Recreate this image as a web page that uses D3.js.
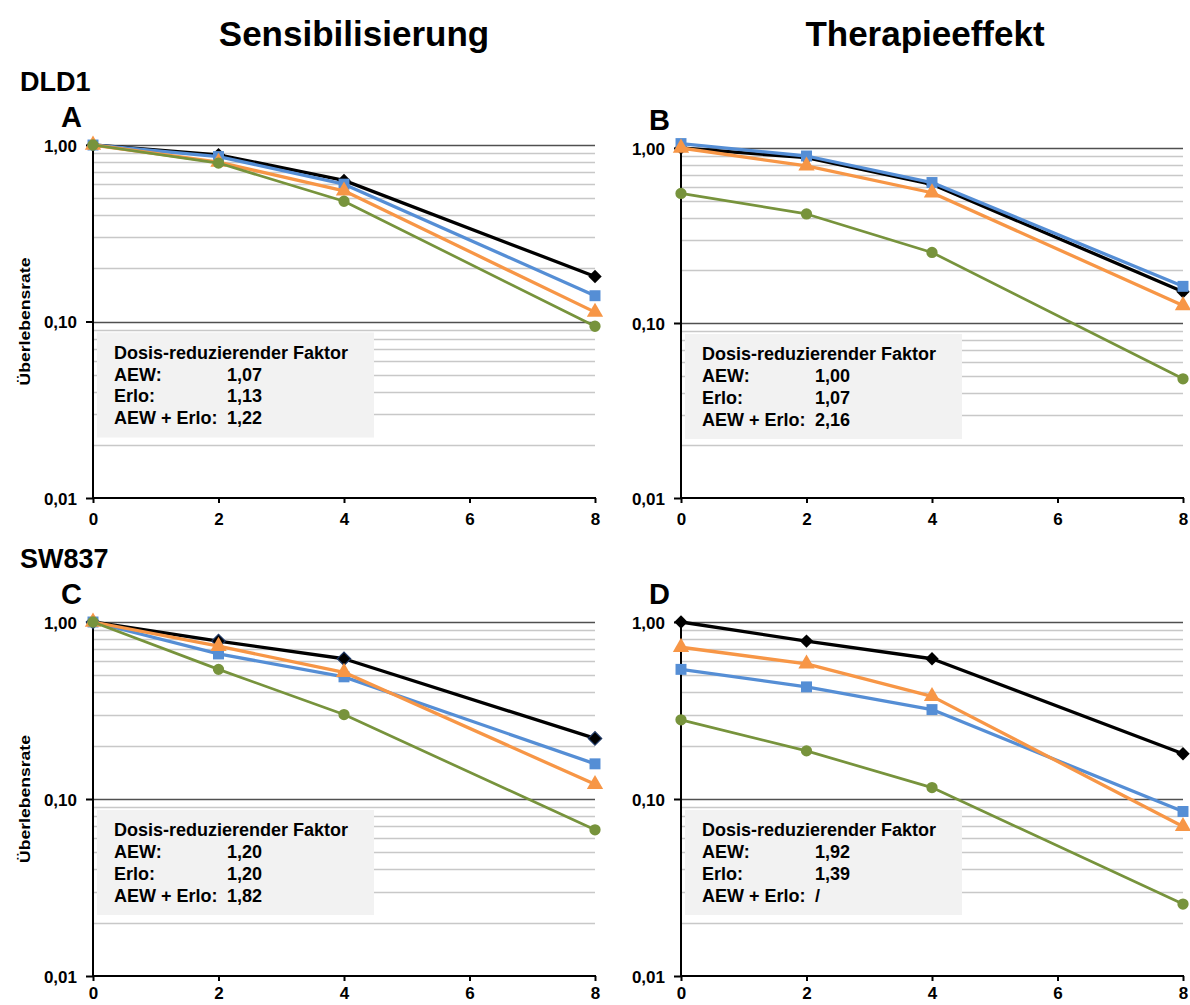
<!DOCTYPE html>
<html>
<head>
<meta charset="utf-8">
<script src="https://cdn.jsdelivr.net/npm/d3@7"></script>
<style>
  body { margin: 0; background: #fff; }
  text { font-family: "Liberation Sans", Arial, sans-serif; font-weight: bold; fill: #000; }
</style>
</head>
<body>
<div id="chart"></div>
<script>
// Dosis (Gy) und Achsen
const doses = [0, 2, 4, 8];
const xTicks = [0, 2, 4, 6, 8];
const yTicks = [1, 0.1, 0.01];
const yTickLabels = ["1,00", "0,10", "0,01"];

const seriesNames = ["Kontrolle", "AEW", "Erlo", "AEW + Erlo"];
const seriesColors = ["#000000", "#558ed5", "#f79646", "#77933c"];

// DLD1 - Sensibilisierung
const aKontrolle = [1.00, 0.88, 0.63, 0.18];
const aAEW = [1.00, 0.86, 0.60, 0.14];
const aErlo = [1.00, 0.80, 0.55, 0.113];
const aBeide = [1.00, 0.79, 0.48, 0.094];

// DLD1 - Therapieeffekt
const bKontrolle = [1.00, 0.88, 0.62, 0.151];
const bAEW = [1.06, 0.90, 0.635, 0.162];
const bErlo = [1.00, 0.79, 0.555, 0.126];
const bBeide = [0.55, 0.42, 0.253, 0.048];

// SW837 - Sensibilisierung
const cKontrolle = [1.00, 0.78, 0.62, 0.22];
const cAEW = [1.00, 0.66, 0.49, 0.158];
const cErlo = [1.00, 0.73, 0.52, 0.121];
const cBeide = [1.00, 0.54, 0.30, 0.067];

// SW837 - Therapieeffekt
const dKontrolle = [1.00, 0.78, 0.62, 0.18];
const dAEW = [0.54, 0.43, 0.32, 0.085];
const dErlo = [0.72, 0.58, 0.38, 0.070];
const dBeide = [0.28, 0.187, 0.116, 0.0255];

// Dosis-reduzierender Faktor
const legendLabels = ["AEW:", "Erlo:", "AEW + Erlo:"];
const aFactors = ["1,07", "1,13", "1,22"];
const bFactors = ["1,00", "1,07", "2,16"];
const cFactors = ["1,20", "1,20", "1,82"];
const dFactors = ["1,92", "1,39", "/"];

const W = 1190, H = 1005;
const svg = d3.select("#chart").append("svg")
    .attr("width", W)
    .attr("height", H);

const panels = [
    {letter: "A", left: 93, right: 595, top: 145, bottom: 498, axisTitle: true, pad: 10,
     series: [aKontrolle, aAEW, aErlo, aBeide], factors: aFactors},
    {letter: "B", left: 681, right: 1183, top: 148, bottom: 498, axisTitle: false, pad: 10,
     series: [bKontrolle, bAEW, bErlo, bBeide], factors: bFactors},
    {letter: "C", left: 93, right: 595, top: 622, bottom: 976, axisTitle: true, edge: true, pad: 6,
     series: [cKontrolle, cAEW, cErlo, cBeide], factors: cFactors},
    {letter: "D", left: 681, right: 1183, top: 622, bottom: 976, axisTitle: false, pad: 6,
     series: [dKontrolle, dAEW, dErlo, dBeide], factors: dFactors}
];

// Überschriften
svg.append("text").attr("x", 354).attr("y", 46).attr("text-anchor", "middle")
    .style("font-size", "35px").text("Sensibilisierung");
svg.append("text").attr("x", 925).attr("y", 46).attr("text-anchor", "middle")
    .style("font-size", "35px").text("Therapieeffekt");
svg.append("text").attr("x", 20).attr("y", 91).style("font-size", "27px").text("DLD1");
svg.append("text").attr("x", 20).attr("y", 568).style("font-size", "27px").text("SW837");

const markerTypes = [d3.symbolSquare, d3.symbolSquare, d3.symbolTriangle, d3.symbolCircle];
const markerSizes = [90, 120, 115, 100];

panels.forEach(p => {
    const x = d3.scaleLinear().domain([0, 8]).range([p.left, p.right]);
    const y = d3.scaleLog().domain([0.01, 1]).range([p.bottom, p.top]);
    const g = svg.append("g");

    // Gitternetz
    const minor = [];
    [0.01, 0.1].forEach(base => {
        for (let k = 2; k <= 9; k++) minor.push(base * k);
    });
    g.selectAll(".minor").data(minor).join("line")
        .attr("x1", p.left).attr("x2", p.right)
        .attr("y1", d => Math.round(y(d)) + 0.5).attr("y2", d => Math.round(y(d)) + 0.5)
        .attr("stroke", "#c8c8c8").attr("stroke-width", 1.3);
    g.selectAll(".major").data([1, 0.1]).join("line")
        .attr("x1", p.left).attr("x2", p.right)
        .attr("y1", d => Math.round(y(d)) + 0.5).attr("y2", d => Math.round(y(d)) + 0.5)
        .attr("stroke", "#505050").attr("stroke-width", 1.3);

    // Achsen
    const yAxis = d3.axisLeft(y).tickValues(yTicks)
        .tickFormat((d, i) => yTickLabels[i]).tickSize(7).tickPadding(9);
    const ya = g.append("g").attr("transform", `translate(${p.left},0)`).call(yAxis);
    ya.select(".domain").remove();
    ya.selectAll(".tick line").attr("stroke", "#000").attr("stroke-width", 2);
    ya.selectAll(".tick text").style("font-size", "17px").attr("font-family", null)
        .attr("dy", "0.36em");
    g.append("line").attr("x1", p.left).attr("x2", p.left)
        .attr("y1", p.top - 3).attr("y2", p.bottom)
        .attr("stroke", "#000").attr("stroke-width", 2);

    const xAxis = d3.axisBottom(x).tickValues(xTicks).tickSize(5).tickPadding(p.pad);
    const xa = g.append("g").attr("transform", `translate(0,${p.bottom})`).call(xAxis);
    xa.select(".domain").remove();
    xa.selectAll(".tick line").attr("stroke", "#000").attr("stroke-width", 2);
    xa.selectAll(".tick text").style("font-size", "17px").attr("font-family", null);
    g.append("line").attr("x1", p.left - 1).attr("x2", p.right + 1)
        .attr("y1", p.bottom).attr("y2", p.bottom)
        .attr("stroke", "#000").attr("stroke-width", 2);

    // Panel-Buchstabe
    svg.append("text").attr("x", p.left - 32).attr("y", p.top - 18)
        .style("font-size", "29px").text(p.letter);

    if (p.axisTitle) {
        const cy = y(0.1);
        svg.append("text")
            .attr("transform", `translate(30,${cy}) rotate(-90)`)
            .attr("text-anchor", "middle")
            .attr("textLength", 128).attr("lengthAdjust", "spacingAndGlyphs")
            .style("font-size", "14px").text("Überlebensrate");
    }

    // Legendenkasten
    const by = y(0.1);
    g.append("rect").attr("x", p.left + 4).attr("y", by + 11)
        .attr("width", 277).attr("height", 105).attr("fill", "#f2f2f2");
    g.append("text").attr("x", p.left + 21).attr("y", by + 37)
        .style("font-size", "18px").text("Dosis-reduzierender Faktor");
    legendLabels.forEach((lab, i) => {
        g.append("text").attr("x", p.left + 21).attr("y", by + 59 + i * 21.8)
            .style("font-size", "18px").text(lab);
        g.append("text").attr("x", p.left + 134).attr("y", by + 59 + i * 21.8)
            .style("font-size", "18px").text(p.factors[i]);
    });

    // Kurven
    p.series.forEach((vals, si) => {
        const pts = doses.map((d, i) => [d, vals[i]]);
        g.append("path").datum(pts)
            .attr("fill", "none")
            .attr("stroke", seriesColors[si])
            .attr("stroke-width", si === 3 ? 2.7 : 3.3)
            .attr("stroke-linejoin", "round")
            .attr("d", d3.line().x(d => x(d[0])).y(d => y(d[1])));
        g.selectAll(null).data(pts).join("path")
            .attr("transform", d => `translate(${x(d[0])},${y(d[1])})` + (si === 0 ? " rotate(45)" : ""))
            .attr("d", d3.symbol().type(markerTypes[si]).size(markerSizes[si]))
            .attr("fill", seriesColors[si])
            .attr("stroke", si === 0 && p.edge ? "#1f3864" : "none")
            .attr("stroke-width", 1.2);
    });
});
</script>
</body>
</html>
